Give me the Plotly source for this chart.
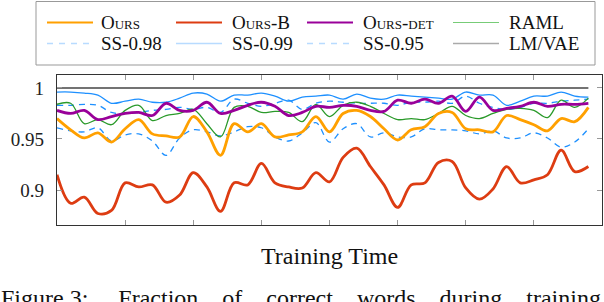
import plotly.graph_objects as go

# ---- data ----
steps = [0, 1, 2, 3, 4, 5, 6, 7, 8, 9, 10, 11, 12, 13, 14, 15, 16, 17, 18, 19,
         20, 21, 22, 23, 24, 25, 26, 27, 28, 29, 30, 31, 32, 33, 34, 35, 36, 37, 38, 39]

ours = [0.970, 0.959, 0.951, 0.956, 0.947, 0.960, 0.969, 0.955, 0.953, 0.952,
        0.972, 0.957, 0.934, 0.965, 0.957, 0.965, 0.952, 0.954, 0.957, 0.972,
        0.957, 0.975, 0.978, 0.972, 0.960, 0.949, 0.959, 0.962, 0.975, 0.976,
        0.960, 0.959, 0.957, 0.973, 0.969, 0.964, 0.958, 0.970, 0.967, 0.981]

ours_b = [0.915, 0.887, 0.893, 0.877, 0.880, 0.907, 0.903, 0.905, 0.888, 0.895,
          0.917, 0.903, 0.879, 0.907, 0.905, 0.926, 0.907, 0.903, 0.902, 0.917,
          0.908, 0.932, 0.941, 0.923, 0.905, 0.883, 0.905, 0.907, 0.927, 0.928,
          0.902, 0.891, 0.901, 0.923, 0.907, 0.910, 0.915, 0.939, 0.918, 0.923]

ours_det = [0.978, 0.975, 0.978, 0.969, 0.972, 0.975, 0.976, 0.973, 0.985, 0.978,
            0.978, 0.986, 0.975, 0.978, 0.983, 0.986, 0.982, 0.973, 0.976, 0.982,
            0.981, 0.983, 0.982, 0.978, 0.977, 0.988, 0.985, 0.989, 0.985, 0.992,
            0.977, 0.991, 0.978, 0.980, 0.982, 0.986, 0.982, 0.984, 0.984, 0.985]

raml = [0.984, 0.985, 0.965, 0.969, 0.964, 0.978, 0.983, 0.968, 0.973, 0.975,
        0.979, 0.965, 0.952, 0.981, 0.982, 0.976, 0.977, 0.976, 0.967, 0.984,
        0.972, 0.983, 0.986, 0.982, 0.975, 0.969, 0.970, 0.969, 0.975, 0.982,
        0.973, 0.970, 0.975, 0.979, 0.980, 0.978, 0.971, 0.988, 0.981, 0.990]

ss_098 = [0.983, 0.983, 0.984, 0.983, 0.976, 0.975, 0.976, 0.978, 0.979, 0.981,
          0.979, 0.981, 0.976, 0.989, 0.985, 0.982, 0.985, 0.988, 0.979, 0.985,
          0.987, 0.986, 0.985, 0.985, 0.985, 0.983, 0.986, 0.986, 0.987, 0.985,
          0.992, 0.985, 0.981, 0.979, 0.981, 0.985, 0.985, 0.987, 0.988, 0.989]

ss_099 = [0.996, 0.996, 0.995, 0.993, 0.985, 0.987, 0.989, 0.986, 0.986, 0.990,
          0.995, 0.994, 0.987, 0.993, 0.993, 0.995, 0.992, 0.987, 0.991, 0.992,
          0.993, 0.989, 0.994, 0.990, 0.989, 0.993, 0.992, 0.991, 0.990, 0.989,
          0.996, 0.993, 0.993, 0.983, 0.987, 0.992, 0.992, 0.996, 0.992, 0.991]

ss_095 = [0.961, 0.958, 0.957, 0.961, 0.948, 0.954, 0.955, 0.948, 0.934, 0.951,
          0.959, 0.957, 0.953, 0.957, 0.962, 0.961, 0.952, 0.948, 0.956, 0.966,
          0.947, 0.960, 0.965, 0.952, 0.956, 0.952, 0.952, 0.960, 0.959, 0.959,
          0.958, 0.955, 0.958, 0.951, 0.951, 0.956, 0.951, 0.942, 0.947, 0.960]

lm_vae_x = [0, 39]
lm_vae = [1.0, 1.0]

y_ticks = [0.9, 0.95, 1.0]
y_tick_labels = ["0.9", "0.95", "1"]

legend_names = ["Ours", "Ours-B", "Ours-det", "RAML", "SS-0.98", "SS-0.99", "SS-0.95", "LM/VAE"]

# ---- styles ----
SERIF = "Liberation Serif, Times New Roman, Times, Nimbus Roman, DejaVu Serif, serif"
BLUE = "#1E90FF"
plot_series = [
    # name, y, color, width, dash
    ("SS-0.95", ss_095, BLUE, 1.3, "6px,5px"),
    ("SS-0.98", ss_098, BLUE, 1.3, "6px,5px"),
    ("SS-0.99", ss_099, BLUE, 1.3, "solid"),
    ("RAML", raml, "#2A9A2A", 1.3, "solid"),
    ("Ours-det", ours_det, "#990099", 2.8, "solid"),
    ("Ours-B", ours_b, "#DD3C12", 2.8, "solid"),
    ("Ours", ours, "#FFA000", 2.8, "solid"),
]
legend_style = {
    "Ours": ("#FFA000", 2.0, "solid", True),
    "Ours-B": ("#DD3C12", 2.0, "solid", True),
    "Ours-det": ("#990099", 2.0, "solid", True),
    "RAML": ("#77CC77", 1.2, "solid", False),
    "SS-0.98": ("#B8DBFF", 1.4, "6px,6px", False),
    "SS-0.99": ("#B8DBFF", 1.4, "solid", False),
    "SS-0.95": ("#B8DBFF", 1.4, "6px,6px", False),
    "LM/VAE": ("#AAAAAA", 1.4, "solid", False),
}

W, H = 604, 302
L, R, T, B = 57, 2, 75, 77
PW, PH = W - L - R, H - T - B


def px_x(p):
    return (p - L) / PW


def px_y(p):
    return (H - B - p) / PH


fig = go.Figure()

fig.add_trace(go.Scatter(x=lm_vae_x, y=lm_vae, mode="lines",
                         line=dict(color="#444444", width=1.5),
                         showlegend=False, hoverinfo="skip"))
for name, ys, color, width, dash in plot_series:
    fig.add_trace(go.Scatter(x=steps, y=ys, mode="lines", name=name,
                             line=dict(color=color, width=width, dash=dash,
                                       shape="spline", smoothing=1.0),
                             showlegend=False))

# ---- manual legend ----
shapes = [dict(type="rect", xref="paper", yref="paper",
               x0=px_x(36), x1=px_x(595), y0=px_y(65), y1=px_y(1.5),
               line=dict(color="#999999", width=1), fillcolor="white", layer="below")]
annotations = []
col_line_x = [47, 176, 307, 453]
col_text_x = [99, 230, 361, 507]
row_y = [22.5, 43.5]
for i, name in enumerate(legend_names):
    r, c = divmod(i, 4)
    color, width, dash, smallcaps = legend_style[name]
    yy = px_y(row_y[r])
    shapes.append(dict(type="line", xref="paper", yref="paper",
                       x0=px_x(col_line_x[c]), x1=px_x(col_line_x[c] + 46),
                       y0=yy, y1=yy, line=dict(color=color, width=width, dash=dash)))
    annotations.append(dict(xref="paper", yref="paper", x=px_x(col_text_x[c]), y=yy,
                            text=name, showarrow=False, xanchor="left", yanchor="middle",
                            font=dict(family=SERIF, size=19, color="#111111",
                                      variant="small-caps" if smallcaps else "normal")))

annotations.append(dict(xref="paper", yref="paper", x=px_x(329), y=px_y(256),
                        text="Training Time", showarrow=False, xanchor="center",
                        yanchor="middle", font=dict(family=SERIF, size=24, color="#111111")))
nb = "\u00a0"
caption = ("Figure" + nb + "3:" + nb * 5 + "Fraction" + nb * 4 + "of" + nb * 4 + "correct"
           + nb * 4 + "words" + nb * 4 + "during" + nb * 4 + "training")
annotations.append(dict(xref="paper", yref="paper", x=px_x(300.5), y=px_y(298),
                        text=caption, showarrow=False, xanchor="center",
                        yanchor="middle", font=dict(family=SERIF, size=24, color="#111111")))

fig.update_layout(
    width=W, height=H,
    margin=dict(l=L, r=R, t=T, b=B, pad=0),
    paper_bgcolor="white", plot_bgcolor="white",
    shapes=shapes, annotations=annotations,
    showlegend=False,
)
fig.update_xaxes(range=[0, 40], tickmode="linear", tick0=0, dtick=5,
                 showticklabels=False, ticks="inside", ticklen=5, tickcolor="#999999",
                 tickwidth=1, showgrid=False, zeroline=False,
                 showline=True, linecolor="#333333", linewidth=1.3, mirror="allticks")
fig.update_yaxes(range=[0.8657, 1.0127], tickmode="array", tickvals=y_ticks,
                 ticktext=y_tick_labels, ticks="inside", ticklen=5, tickcolor="#999999",
                 tickwidth=1, showgrid=False, zeroline=False,
                 showline=True, linecolor="#333333", linewidth=1.3, mirror="allticks",
                 ticklabelstandoff=8,
                 tickfont=dict(family=SERIF, size=19, color="#222222"))

fig.write_html("out.html", config={"displayModeBar": False},
               post_script="document.body.style.margin='0';"
                           "document.body.style.overflow='hidden';")
